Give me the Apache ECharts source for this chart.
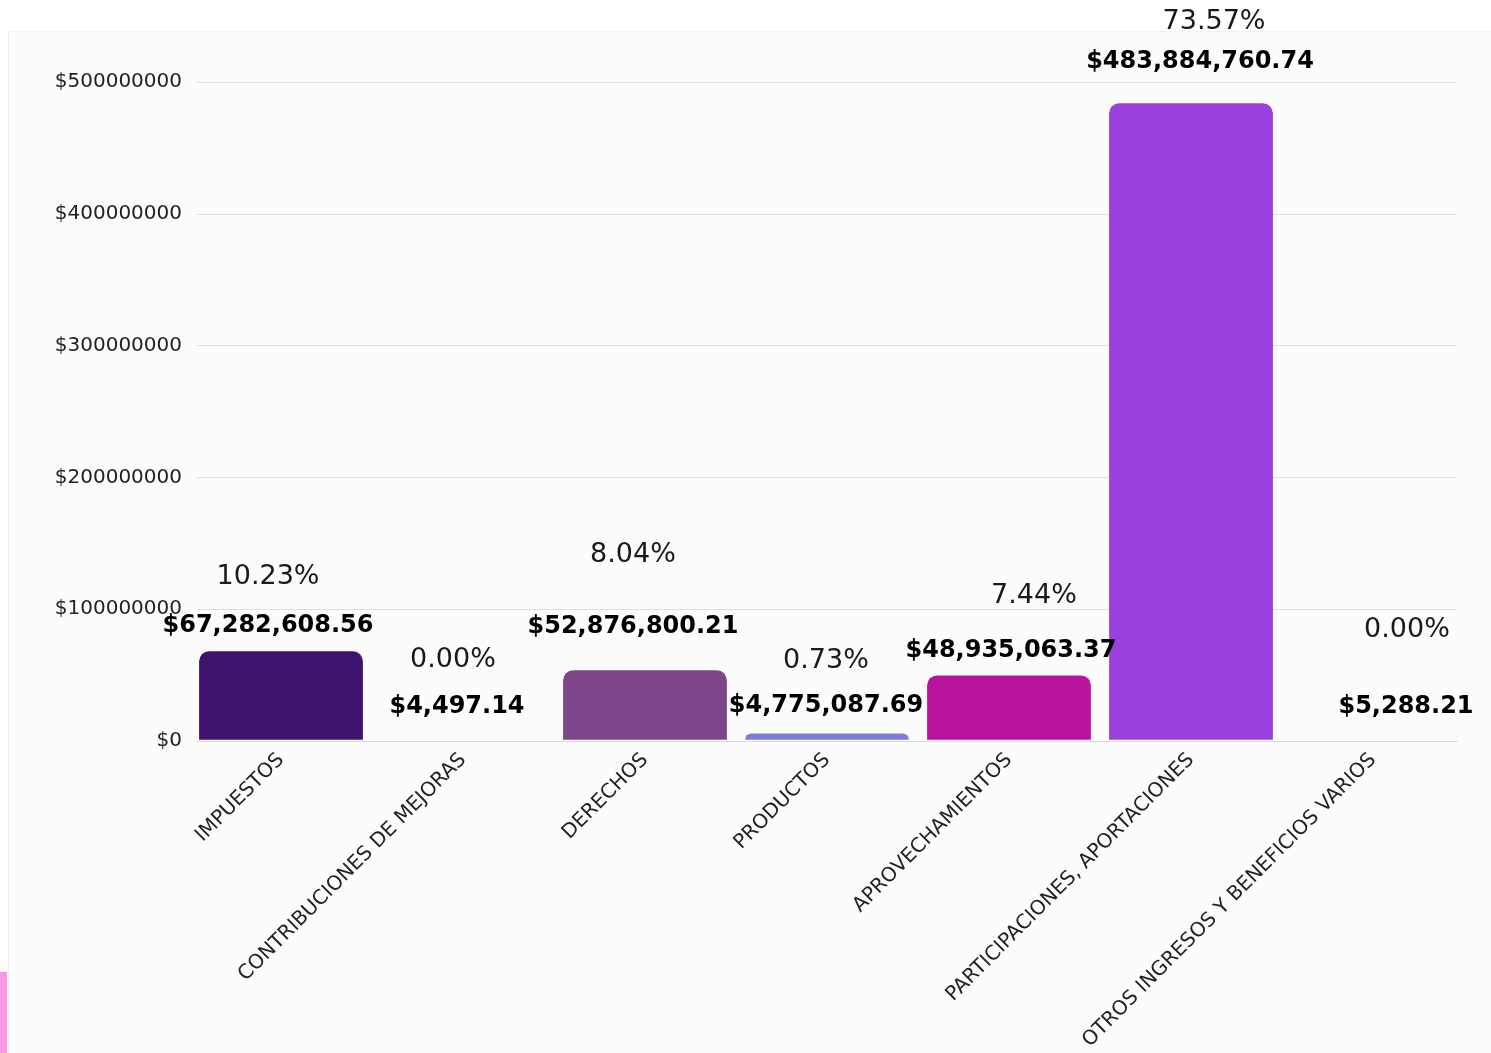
<!DOCTYPE html>
<html>
<head>
<meta charset="utf-8">
<script src="https://cdn.jsdelivr.net/npm/echarts@6/dist/echarts.min.js"></script>
<style>
  html, body { margin: 0; padding: 0; background: #ffffff; width: 1491px; height: 1053px; overflow: hidden; }
  #card { position: absolute; left: 8px; top: 31px; width: 1483px; height: 1022px; background: #fcfcfc; border-left: 1px solid #eeeeee; border-top: 1px solid #f2f2f2; box-sizing: border-box; }
  #strip { position: absolute; left: 0; top: 972px; width: 7px; height: 81px; background: #f799e0; }
  #chart { position: absolute; left: 0; top: 0; width: 1491px; height: 1053px; }
</style>
</head>
<body>
<div id="card"></div>
<div id="strip"></div>
<div id="chart"></div>
<script>
// ---- data ----
const categories = [
  "IMPUESTOS",
  "CONTRIBUCIONES DE MEJORAS",
  "DERECHOS",
  "PRODUCTOS",
  "APROVECHAMIENTOS",
  "PARTICIPACIONES, APORTACIONES",
  "OTROS INGRESOS Y BENEFICIOS VARIOS"
];
const amounts = [67282608.56, 4497.14, 52876800.21, 4775087.69, 48935063.37, 483884760.74, 5288.21];
const percentLabels = ["10.23%", "0.00%", "8.04%", "0.73%", "7.44%", "73.57%", "0.00%"];
const yTicks = [0, 100000000, 200000000, 300000000, 400000000, 500000000];

// ---- styles ----
const barColors = ["#3e126f", "#5a2a82", "#7e4589", "#7b7be0", "#ba149e", "#9a40dc", "#e04fbf"];
const valueLabelOffsets = [[-13, -11], [-6, -19], [-12, -29], [-1, -14], [2, -11], [9, -27], [33, -19]];
const pctLabelOffsets = [[-13, -58], [-10, -64], [-12, -99], [-1, -57], [25, -63], [23, -65], [34, -94]];

const FONT = "DejaVu Sans";
const yMin = yTicks[0], yMax = yTicks[yTicks.length - 1], yStep = yTicks[1] - yTicks[0];

function fmtMoney(v) {
  return "$" + v.toLocaleString("en-US", { minimumFractionDigits: 2, maximumFractionDigits: 2 });
}

const chart = echarts.init(document.getElementById("chart"), null, { renderer: "canvas" });

const option = {
  backgroundColor: "transparent",
  animation: false,
  grid: [
    { left: 197, right: 34, top: 82, bottom: 312, containLabel: false },
    { left: 190, right: 27, top: 82, bottom: 312, containLabel: false }
  ],
  xAxis: [
    {
      gridIndex: 0,
      type: "category",
      data: categories,
      axisLine: { show: true, lineStyle: { color: "#d9d9d9", width: 1 } },
      axisTick: { show: false },
      axisLabel: { show: false }
    },
    {
      gridIndex: 1,
      type: "category",
      data: categories,
      axisLine: { show: false },
      axisTick: { show: false },
      axisLabel: {
        rotate: 45,
        interval: 0,
        margin: 17,
        color: "#222",
        fontFamily: FONT,
        fontSize: 20
      }
    }
  ],
  yAxis: [
    {
      gridIndex: 0,
      type: "value",
      min: yMin, max: yMax, interval: yStep,
      axisLine: { show: false },
      axisTick: { show: false },
      splitLine: { lineStyle: { color: "#dedede", width: 1 } },
      axisLabel: {
        margin: 15,
        color: "#222",
        fontFamily: FONT,
        fontSize: 20,
        formatter: v => "$" + v
      }
    },
    {
      gridIndex: 1,
      type: "value",
      min: yMin, max: yMax, interval: yStep,
      show: false,
      splitLine: { show: false }
    }
  ],
  series: [
    {
      type: "bar",
      xAxisIndex: 1,
      yAxisIndex: 1,
      barCategoryGap: "10%",
      barGap: "-100%",
      z: 2,
      data: amounts.map((v, i) => ({
        value: v,
        itemStyle: { color: barColors[i], borderRadius: [10, 10, 0, 0] },
        label: { offset: valueLabelOffsets[i] }
      })),
      label: {
        show: true,
        position: "top",
        distance: 0,
        formatter: p => fmtMoney(p.value),
        color: "#000",
        fontFamily: FONT,
        fontWeight: "bold",
        fontSize: 24,
        lineHeight: 28
      }
    },
    {
      type: "bar",
      xAxisIndex: 1,
      yAxisIndex: 1,
      barCategoryGap: "10%",
      barGap: "-100%",
      z: 3,
      silent: true,
      itemStyle: { color: "rgba(0,0,0,0)" },
      data: amounts.map((v, i) => ({
        value: v,
        label: { offset: pctLabelOffsets[i] }
      })),
      label: {
        show: true,
        position: "top",
        distance: 0,
        formatter: p => percentLabels[p.dataIndex],
        color: "#1a1a1a",
        fontFamily: FONT,
        fontWeight: "normal",
        fontSize: 27,
        lineHeight: 32
      }
    }
  ]
};

chart.setOption(option);
</script>
</body>
</html>
